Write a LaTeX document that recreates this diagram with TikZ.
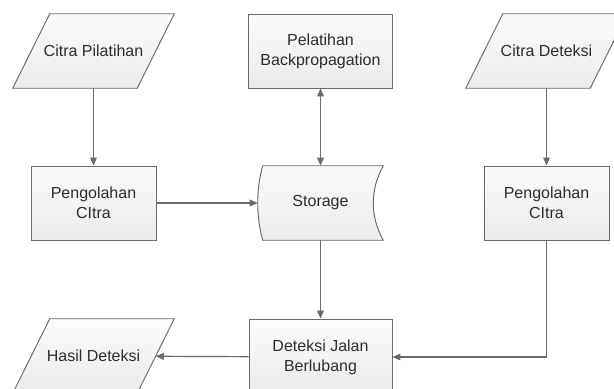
\documentclass[tikz,border=0pt]{standalone}
\usepackage{fontspec}
\setmainfont{Liberation Sans}
\definecolor{linegray}{RGB}{105,105,105}
\definecolor{textgray}{RGB}{45,45,45}
\usetikzlibrary{arrows.meta, calc, backgrounds}

\begin{document}
\begin{tikzpicture}[
  x=0.75pt, y=-0.75pt,
  >={Triangle[length=6pt,width=5pt]},
  box/.style={draw=linegray, line width=0.7pt, top color=gray!3, bottom color=gray!16,
              minimum width=93.75pt, minimum height=55.5pt, inner sep=0pt,
              font=\fontsize{12}{15}\selectfont, text=textgray, align=center},
  datain/.style={minimum width=93pt, minimum height=55.5pt, inner sep=0pt,
              font=\fontsize{12}{15}\selectfont, text=textgray, align=center},
  outline/.style={draw=linegray, line width=0.7pt, top color=gray!3, bottom color=gray!16},
  arr/.style={->, draw=linegray, line width=0.9pt},
]
\useasboundingbox (0,0) rectangle (614,389);
\clip (0,0) rectangle (614,389);

% top row
\node[datain] (cpl) at (93.5,51) {Citra Pilatihan};
\node[box, minimum width=108pt] (pbp) at (320.5,51) {Pelatihan\\Backpropagation};
\node[datain] (cdt) at (546.5,51) {Citra Deteksi};

% middle row
\node[box] (pl) at (93.5,203) {Pengolahan\\CItra};
\node[datain, minimum width=93.75pt] (st) at (320.5,203) {Storage};
\node[box] (pr) at (546.5,203) {Pengolahan\\CItra};

% bottom row
\node[datain] (hsl) at (93.5,356) {Hasil Deteksi};
\node[box, minimum width=107.25pt, minimum height=57pt] (dj) at (320.5,357) {Deteksi Jalan\\Berlubang};

% shapes behind the data nodes
\begin{scope}[on background layer]
  \clip (0,0) rectangle (614,389);
  \foreach \n in {cpl, cdt, hsl}
    \draw[outline] ([xshift=13.9pt]\n.north west) -- ([xshift=13.9pt]\n.north east)
      -- ([xshift=-13.9pt]\n.south east) -- ([xshift=-13.9pt]\n.south west) -- cycle;
  \draw[outline] ($(st.north west)+(5,0)$) -- (st.north east)
    .. controls ($(st.north east)+(-13.3,24)$) and ($(st.south east)+(-13.3,-24)$) .. (st.south east)
    -- ($(st.south west)+(5,0)$)
    .. controls ($(st.south west)+(-1.7,-24)$) and ($(st.north west)+(-1.7,24)$) .. ($(st.north west)+(5,0)$)
    -- cycle;
\end{scope}

% connectors
\draw[arr] (cpl) -- (pl);
\draw[arr] (pl) -- (st);
\draw[arr, <->] (pbp) -- (st);
\draw[arr] (cdt) -- (pr);
\draw[arr] (st) -- (dj);
\draw[arr] (pr.south) |- (dj.east);
\draw[arr] (dj) -- (hsl);
\end{tikzpicture}
\end{document}
